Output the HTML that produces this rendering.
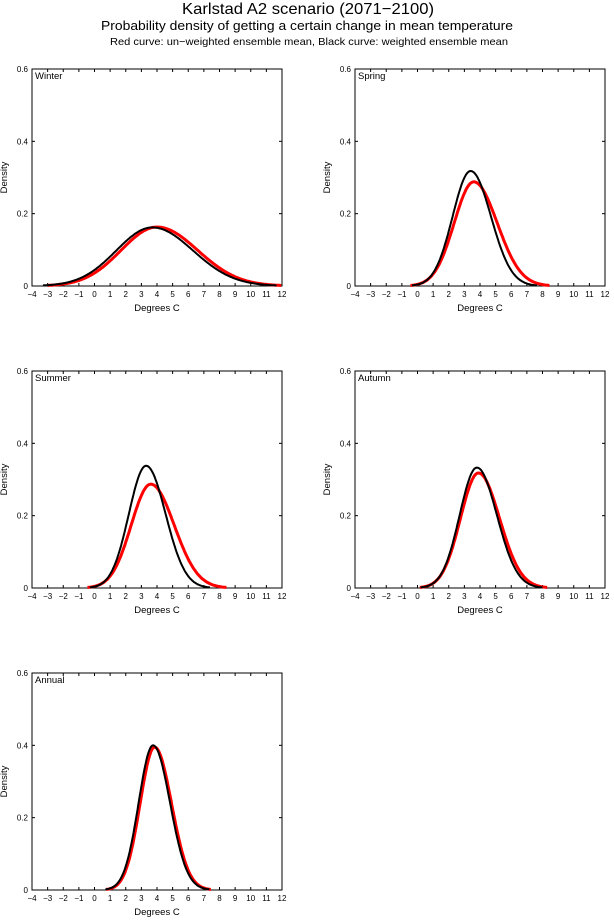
<!DOCTYPE html>
<html><head><meta charset="utf-8"><style>
body{margin:0;background:#fff;}
svg{display:block;font-family:"Liberation Sans",sans-serif;}
</style></head><body>
<svg id="s" width="614" height="920" xmlns="http://www.w3.org/2000/svg">
<text x="308" y="14" font-size="16" text-anchor="middle" textLength="252" lengthAdjust="spacingAndGlyphs">Karlstad A2 scenario (2071−2100)</text>
<text x="307" y="30" font-size="13" text-anchor="middle" textLength="412" lengthAdjust="spacingAndGlyphs">Probability density of getting a certain change in mean temperature</text>
<text x="309" y="45" font-size="10.5" text-anchor="middle" textLength="398" lengthAdjust="spacingAndGlyphs">Red curve: un−weighted ensemble mean, Black curve: weighted ensemble mean</text>
</svg>
<script>
const s=document.getElementById('s');let h='';
const panels=[
 {x0:32,y0:69,name:'Winter',b:[0.162,3.7,2.3,2.6],r:[0.163,4.0,2.3,2.6]},
 {x0:355,y0:69,name:'Spring',b:[0.318,3.4,1.15,1.3],r:[0.288,3.6,1.25,1.5]},
 {x0:32,y0:371,name:'Summer',b:[0.338,3.3,1.1,1.25],r:[0.287,3.6,1.25,1.5]},
 {x0:355,y0:371,name:'Autumn',b:[0.333,3.8,1.1,1.28],r:[0.318,3.9,1.15,1.35]},
 {x0:32,y0:673,name:'Annual',b:[0.4,3.75,0.92,1.08],r:[0.395,3.85,0.93,1.08]}];
const W=250,H=217;
for(const p of panels){
 const X=v=>p.x0+(v+4)/16*W, Y=v=>p.y0+H-v/0.6*H;
 h+=`<rect x="${p.x0}" y="${p.y0}" width="${W}" height="${H}" fill="none" stroke="#000" stroke-width="1"/>`;
 for(let t=-4;t<=12;t++){const x=X(t);
  h+=`<line x1="${x}" y1="${p.y0+H}" x2="${x}" y2="${p.y0+H-3}" stroke="#000"/><line x1="${x}" y1="${p.y0}" x2="${x}" y2="${p.y0+3}" stroke="#000"/>`;
  h+=`<text x="${x}" y="${p.y0+H+11}" font-size="8" text-anchor="middle">${t<0?'−'+(-t):t}</text>`;}
 for(const t of [0,0.2,0.4,0.6]){const y=Y(t);
  h+=`<line x1="${p.x0}" y1="${y}" x2="${p.x0+3}" y2="${y}" stroke="#000"/><line x1="${p.x0+W}" y1="${y}" x2="${p.x0+W-3}" y2="${y}" stroke="#000"/>`;
  h+=`<text x="${p.x0-4}" y="${y+3}" font-size="8" text-anchor="end">${t===0?'0':t}</text>`;}
 h+=`<text x="${p.x0+W/2}" y="${p.y0+H+25}" font-size="9.5" text-anchor="middle">Degrees C</text>`;
 h+=`<text transform="translate(${p.x0-25},${p.y0+H/2}) rotate(-90)" font-size="9.5" text-anchor="middle">Density</text>`;
 h+=`<text x="${p.x0+3}" y="${p.y0+10}" font-size="9.5">${p.name}</text>`;
 for(const [c,col,sw] of [[p.r,'#f00',3],[p.b,'#000',2]]){
  let d='';let first=true;
  for(let v=-4;v<=12;v+=0.05){const sd=v<c[1]?c[2]:c[3];const f=c[0]*Math.exp(-((v-c[1])**2)/(2*sd*sd));
   if(f<0.0015)continue;d+=(first?'M':'L')+X(v).toFixed(1)+' '+Y(f).toFixed(1);first=false;}
  h+=`<path d="${d}" fill="none" stroke="${col}" stroke-width="${sw}"/>`;}
}
s.insertAdjacentHTML('beforeend',h);
</script>
</body></html>
